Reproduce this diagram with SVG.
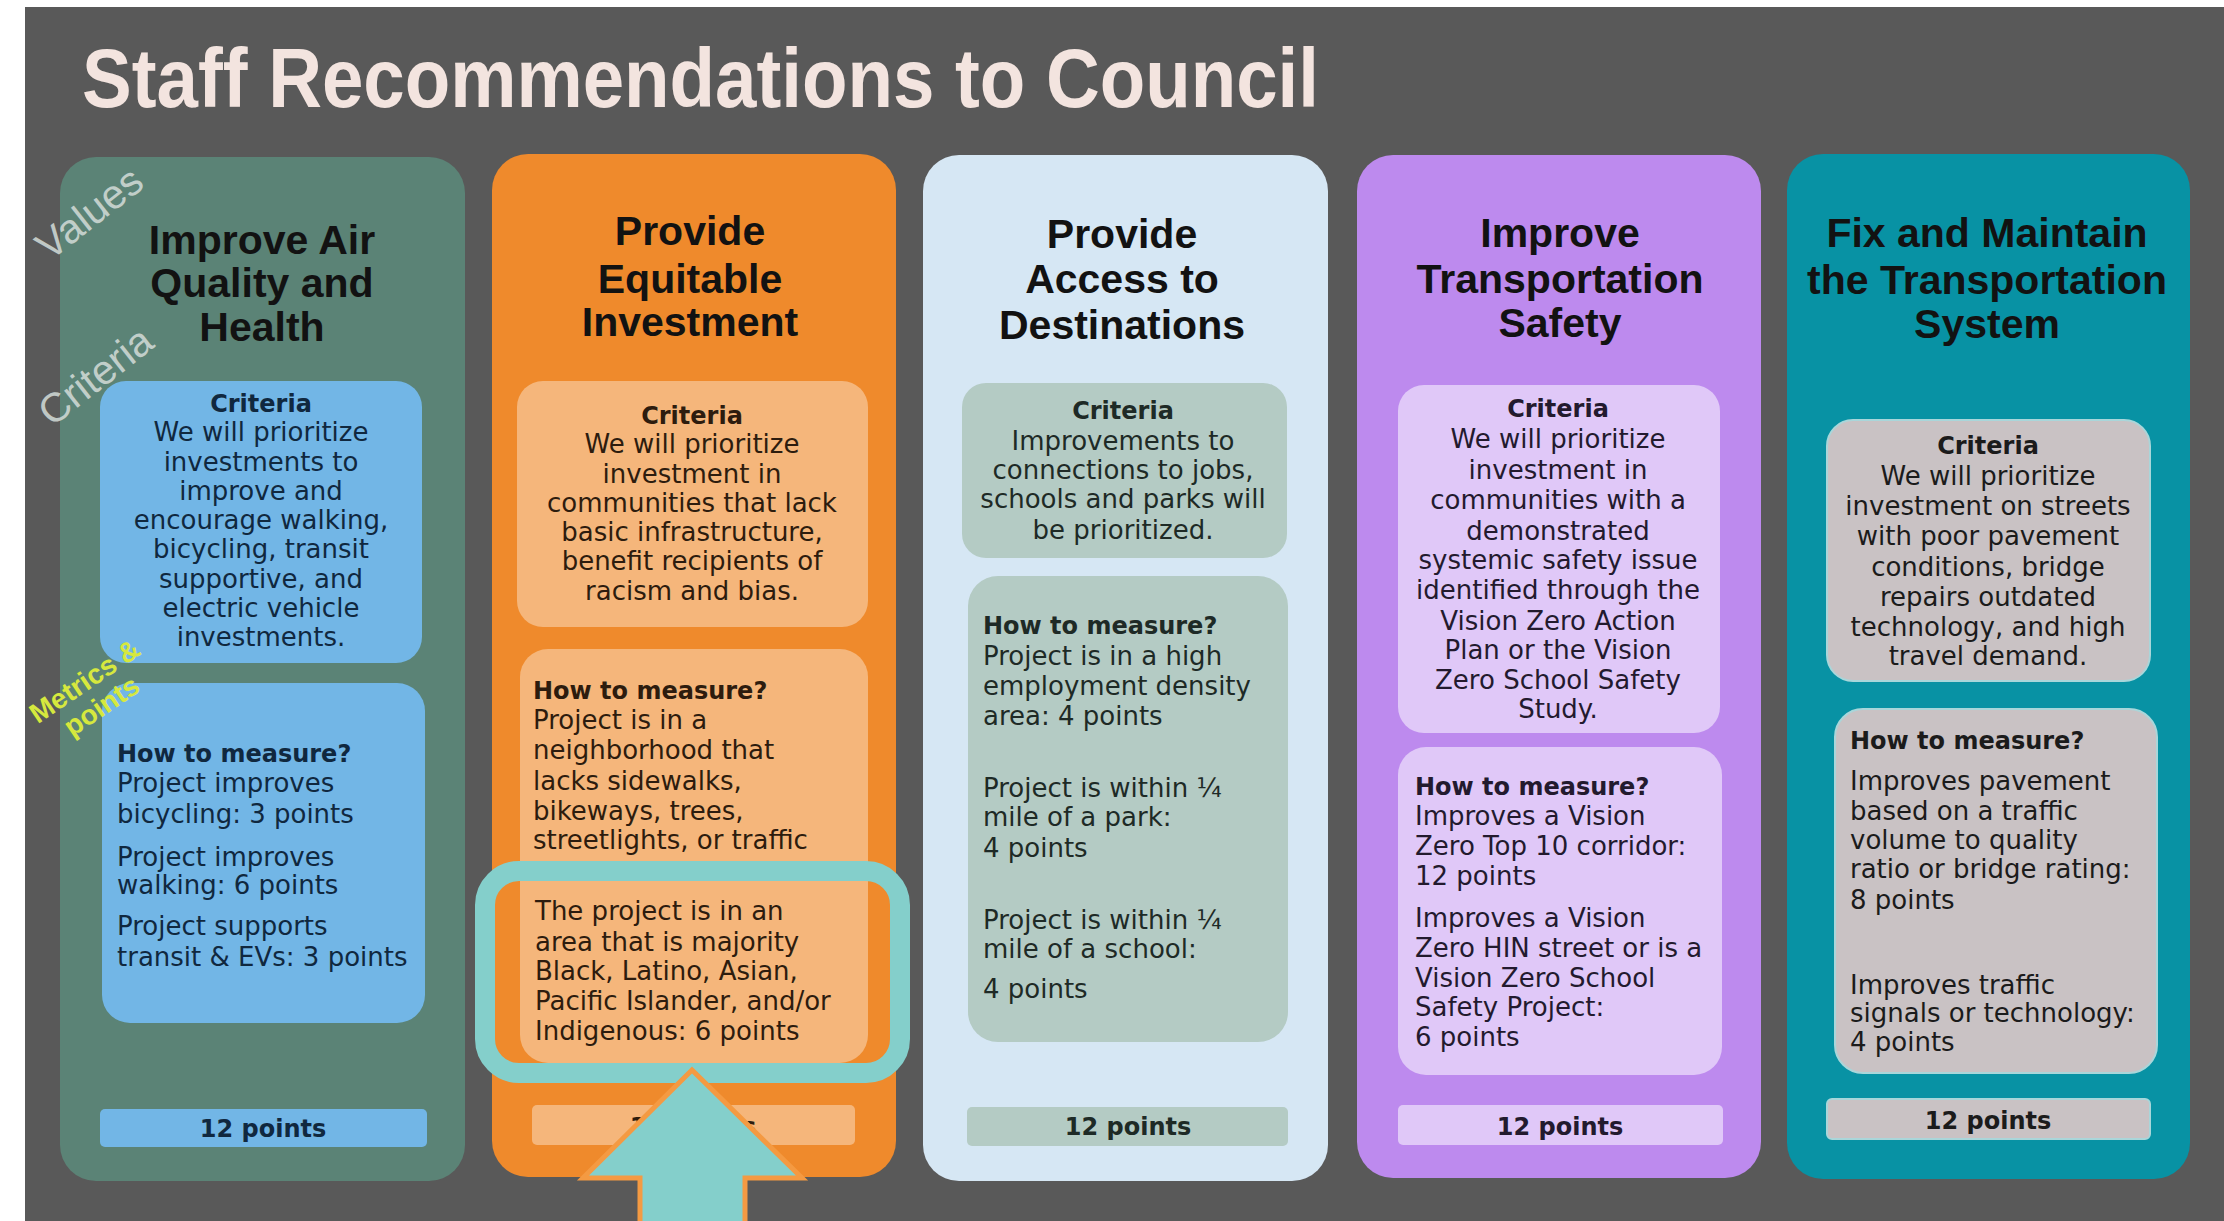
<svg xmlns="http://www.w3.org/2000/svg" width="2224" height="1221" viewBox="0 0 2224 1221">
<style>
.hdr{font-family:"Liberation Sans",Arial,sans-serif;font-weight:bold;font-size:41px;text-anchor:middle;fill:#121212}
.t{font-family:"DejaVu Sans",Verdana,sans-serif;font-size:26px}
.tb{font-family:"DejaVu Sans",Verdana,sans-serif;font-size:24px;font-weight:bold}
.mid{text-anchor:middle}
.side{font-family:"Liberation Sans",Arial,sans-serif;font-size:41px;fill:#d3dcd8;opacity:.85;text-anchor:middle}
.met{font-family:"Liberation Sans",Arial,sans-serif;font-size:28px;font-weight:bold;fill:#d6e83e;text-anchor:middle}
</style>
<rect x="0" y="0" width="2224" height="1221" fill="#ffffff"/>
<rect x="25" y="7" width="2199" height="1214" fill="#595959"/>
<text x="82" y="107" textLength="1237" lengthAdjust="spacingAndGlyphs" font-family="Liberation Sans, Arial, sans-serif" font-weight="bold" font-size="84" fill="#f3e4df">Staff Recommendations to Council</text>

<g id="col1">
<rect x="60" y="157" width="405" height="1024" rx="36" fill="#5b8376"/>
<text class="hdr" x="262" y="254">Improve Air</text>
<text class="hdr" x="262" y="297">Quality and</text>
<text class="hdr" x="262" y="341">Health</text>
<rect x="100" y="381" width="322" height="282" rx="26" fill="#72b6e6"/>
<g fill="#10283f">
<text class="tb mid" x="261" y="412">Criteria</text>
<text class="t mid" x="261" y="441">We will prioritize</text>
<text class="t mid" x="261" y="471">investments to</text>
<text class="t mid" x="261" y="500">improve and</text>
<text class="t mid" x="261" y="529">encourage walking,</text>
<text class="t mid" x="261" y="558">bicycling, transit</text>
<text class="t mid" x="261" y="588">supportive, and</text>
<text class="t mid" x="261" y="617">electric vehicle</text>
<text class="t mid" x="261" y="646">investments.</text>
</g>
<rect x="102" y="683" width="323" height="340" rx="28" fill="#72b6e6"/>
<g fill="#10283f">
<text class="tb" x="117" y="762">How to measure?</text>
<text class="t" x="117" y="792">Project improves</text>
<text class="t" x="117" y="823">bicycling: 3 points</text>
<text class="t" x="117" y="866">Project improves</text>
<text class="t" x="117" y="894">walking: 6 points</text>
<text class="t" x="117" y="935">Project supports</text>
<text class="t" x="117" y="966">transit &amp; EVs: 3 points</text>
</g>
<rect x="100" y="1109" width="327" height="38" rx="5" fill="#72b6e6"/>
<text class="tb mid" x="263" y="1137" fill="#10283f">12 points</text>
</g>

<g id="col2">
<rect x="492" y="154" width="404" height="1023" rx="36" fill="#ef8a2c"/>
<text class="hdr" x="690" y="245">Provide</text>
<text class="hdr" x="690" y="293">Equitable</text>
<text class="hdr" x="690" y="336">Investment</text>
<rect x="517" y="381" width="351" height="246" rx="26" fill="#f5b67b"/>
<g fill="#2d1c0e">
<text class="tb mid" x="692" y="424">Criteria</text>
<text class="t mid" x="692" y="453">We will prioritize</text>
<text class="t mid" x="692" y="483">investment in</text>
<text class="t mid" x="692" y="512">communities that lack</text>
<text class="t mid" x="692" y="541">basic infrastructure,</text>
<text class="t mid" x="692" y="570">benefit recipients of</text>
<text class="t mid" x="692" y="600">racism and bias.</text>
</g>
<rect x="520" y="649" width="348" height="414" rx="28" fill="#f5b67b"/>
<g fill="#2d1c0e">
<text class="tb" x="533" y="699">How to measure?</text>
<text class="t" x="533" y="729">Project is in a</text>
<text class="t" x="533" y="759">neighborhood that</text>
<text class="t" x="533" y="790">lacks sidewalks,</text>
<text class="t" x="533" y="820">bikeways, trees,</text>
<text class="t" x="533" y="849">streetlights, or traffic</text>
<text class="t" x="535" y="920">The project is in an</text>
<text class="t" x="535" y="951">area that is majority</text>
<text class="t" x="535" y="980">Black, Latino, Asian,</text>
<text class="t" x="535" y="1010">Pacific Islander, and/or</text>
<text class="t" x="535" y="1040">Indigenous: 6 points</text>
</g>
<rect x="532" y="1105" width="323" height="40" rx="5" fill="#f5b67b"/>
<text class="tb mid" x="693" y="1135" fill="#2d1c0e">12 points</text>
</g>

<g id="col3">
<rect x="923" y="155" width="405" height="1026" rx="36" fill="#d6e7f4"/>
<text class="hdr" x="1122" y="248">Provide</text>
<text class="hdr" x="1122" y="293">Access to</text>
<text class="hdr" x="1122" y="339">Destinations</text>
<rect x="962" y="383" width="325" height="175" rx="24" fill="#b4cbc4"/>
<g fill="#1e2a26">
<text class="tb mid" x="1123" y="419">Criteria</text>
<text class="t mid" x="1123" y="450">Improvements to</text>
<text class="t mid" x="1123" y="479">connections to jobs,</text>
<text class="t mid" x="1123" y="508">schools and parks will</text>
<text class="t mid" x="1123" y="539">be prioritized.</text>
</g>
<rect x="968" y="576" width="320" height="466" rx="30" fill="#b4cbc4"/>
<g fill="#1e2a26">
<text class="tb" x="983" y="634">How to measure?</text>
<text class="t" x="983" y="665">Project is in a high</text>
<text class="t" x="983" y="695">employment density</text>
<text class="t" x="983" y="725">area: 4 points</text>
<text class="t" x="983" y="797">Project is within ¼</text>
<text class="t" x="983" y="826">mile of a park:</text>
<text class="t" x="983" y="857">4 points</text>
<text class="t" x="983" y="929">Project is within ¼</text>
<text class="t" x="983" y="958">mile of a school:</text>
<text class="t" x="983" y="998">4 points</text>
</g>
<rect x="967" y="1107" width="321" height="39" rx="5" fill="#b4cbc4"/>
<text class="tb mid" x="1128" y="1135" fill="#1e2a26">12 points</text>
</g>

<g id="col4">
<rect x="1357" y="155" width="404" height="1023" rx="36" fill="#bd8aee"/>
<text class="hdr" x="1560" y="247">Improve</text>
<text class="hdr" x="1560" y="293">Transportation</text>
<text class="hdr" x="1560" y="337">Safety</text>
<rect x="1398" y="385" width="322" height="348" rx="26" fill="#e0c8f8"/>
<g fill="#231a2e">
<text class="tb mid" x="1558" y="417">Criteria</text>
<text class="t mid" x="1558" y="448">We will prioritize</text>
<text class="t mid" x="1558" y="479">investment in</text>
<text class="t mid" x="1558" y="509">communities with a</text>
<text class="t mid" x="1558" y="540">demonstrated</text>
<text class="t mid" x="1558" y="569">systemic safety issue</text>
<text class="t mid" x="1558" y="599">identified through the</text>
<text class="t mid" x="1558" y="630">Vision Zero Action</text>
<text class="t mid" x="1558" y="659">Plan or the Vision</text>
<text class="t mid" x="1558" y="689">Zero School Safety</text>
<text class="t mid" x="1558" y="718">Study.</text>
</g>
<rect x="1398" y="747" width="324" height="328" rx="28" fill="#e0c8f8"/>
<g fill="#231a2e">
<text class="tb" x="1415" y="795">How to measure?</text>
<text class="t" x="1415" y="825">Improves a Vision</text>
<text class="t" x="1415" y="855">Zero Top 10 corridor:</text>
<text class="t" x="1415" y="885">12 points</text>
<text class="t" x="1415" y="927">Improves a Vision</text>
<text class="t" x="1415" y="957">Zero HIN street or is a</text>
<text class="t" x="1415" y="987">Vision Zero School</text>
<text class="t" x="1415" y="1016">Safety Project:</text>
<text class="t" x="1415" y="1046">6 points</text>
</g>
<rect x="1398" y="1105" width="325" height="40" rx="5" fill="#e0c8f8"/>
<text class="tb mid" x="1560" y="1135" fill="#231a2e">12 points</text>
</g>

<g id="col5">
<rect x="1787" y="154" width="403" height="1025" rx="36" fill="#0892a4"/>
<text class="hdr" x="1987" y="247" fill="#0b1c24">Fix and Maintain</text>
<text class="hdr" x="1987" y="294" fill="#0b1c24">the Transportation</text>
<text class="hdr" x="1987" y="338" fill="#0b1c24">System</text>
<rect x="1827" y="420" width="323" height="261" rx="26" fill="#c9c2c4" stroke="#a9d6da" stroke-width="2"/>
<g fill="#1b1b1b">
<text class="tb mid" x="1988" y="454">Criteria</text>
<text class="t mid" x="1988" y="485">We will prioritize</text>
<text class="t mid" x="1988" y="515">investment on streets</text>
<text class="t mid" x="1988" y="545">with poor pavement</text>
<text class="t mid" x="1988" y="576">conditions, bridge</text>
<text class="t mid" x="1988" y="606">repairs outdated</text>
<text class="t mid" x="1988" y="636">technology, and high</text>
<text class="t mid" x="1988" y="665">travel demand.</text>
</g>
<rect x="1835" y="709" width="322" height="364" rx="28" fill="#c9c2c4" stroke="#a9d6da" stroke-width="2"/>
<g fill="#1b1b1b">
<text class="tb" x="1850" y="749">How to measure?</text>
<text class="t" x="1850" y="790">Improves pavement</text>
<text class="t" x="1850" y="820">based on a traffic</text>
<text class="t" x="1850" y="849">volume to quality</text>
<text class="t" x="1850" y="878">ratio or bridge rating:</text>
<text class="t" x="1850" y="909">8 points</text>
<text class="t" x="1850" y="994">Improves traffic</text>
<text class="t" x="1850" y="1022">signals or technology:</text>
<text class="t" x="1850" y="1051">4 points</text>
</g>
<rect x="1827" y="1099" width="323" height="40" rx="5" fill="#c9c2c4" stroke="#a9d6da" stroke-width="2"/>
<text class="tb mid" x="1988" y="1129" fill="#1b1b1b">12 points</text>
</g>

<g id="side-labels">
<text class="side" transform="translate(98,224) rotate(-38)">Values</text>
<text class="side" transform="translate(104,387) rotate(-38)">Criteria</text>
<g transform="translate(90,689) rotate(-34)">
<text class="met" x="0" y="0">Metrics &amp;</text>
<text class="met" x="0" y="30">points</text>
</g>
</g>

<g id="highlight">
<rect x="485" y="871" width="415" height="202" rx="34" fill="none" stroke="#84cfcb" stroke-width="20"/>
</g>

<g id="connectors">
<path d="M692,1070 L802,1178 L745,1178 L745,1230 L640,1230 L640,1178 L583,1178 Z" fill="#84cfcb" stroke="#f49a42" stroke-width="5" stroke-linejoin="miter"/>
</g>
</svg>
